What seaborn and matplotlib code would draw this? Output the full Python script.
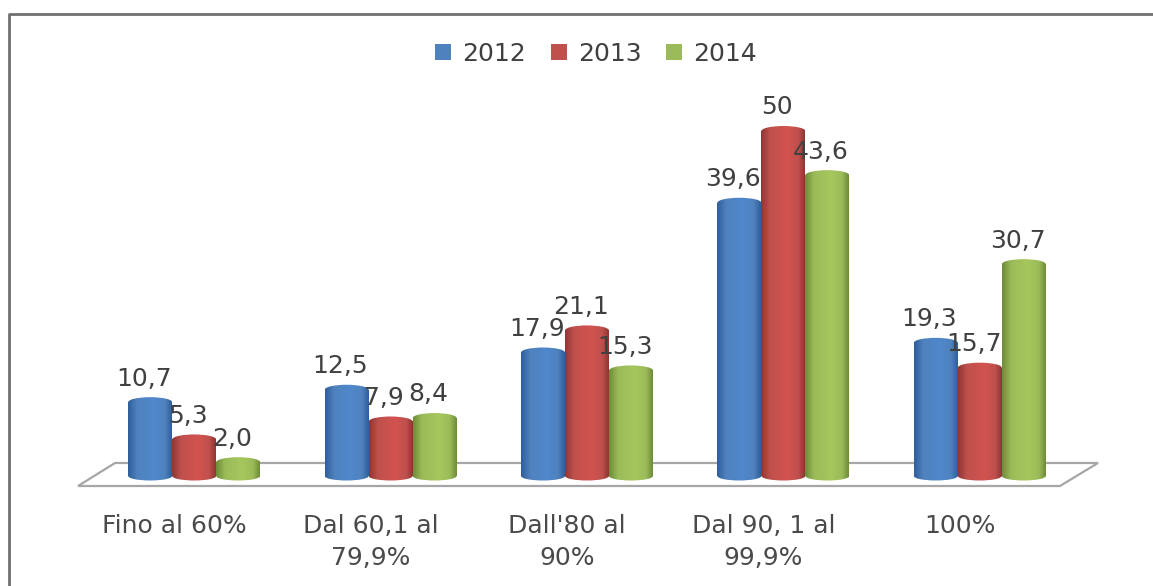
import matplotlib
matplotlib.use('Agg')

import matplotlib.pyplot as plt
from matplotlib.colors import LinearSegmentedColormap
from matplotlib.lines import Line2D
from matplotlib.patches import Ellipse, Polygon, Rectangle
from matplotlib.transforms import ScaledTranslation
import numpy as np
import pandas as pd
import seaborn as sns

categories = ["Fino al 60%", "Dal 60,1 al\n79,9%", "Dall'80 al\n90%", "Dal 90, 1 al\n99,9%", "100%"]
years = ["2012", "2013", "2014"]
values_2012 = [10.7, 12.5, 17.9, 39.6, 19.3]
values_2013 = [5.3, 7.9, 21.1, 50, 15.7]
values_2014 = [2.0, 8.4, 15.3, 43.6, 30.7]
labels_2012 = ["10,7", "12,5", "17,9", "39,6", "19,3"]
labels_2013 = ["5,3", "7,9", "21,1", "50", "15,7"]
labels_2014 = ["2,0", "8,4", "15,3", "43,6", "30,7"]

colors = ["#4F81BD", "#C0504D", "#9BBB59"]
edge_dark = ["#2F5F9C", "#8F3734", "#6F8C38"]
body_light = ["#5088CC", "#D2534F", "#A5C75C"]

W, H = 1153, 586
PX_PER_UNIT = 6.9
Y_ZERO = 476
TXT = "#404040"
FS = 18

df = pd.DataFrame({
    "cat": categories * 3,
    "year": np.repeat(years, 5),
    "val": values_2012 + values_2013 + values_2014,
})

fig = plt.figure(figsize=(W / 100, H / 100), dpi=100, facecolor="white")
ax = fig.add_axes([96 / W, 1 - 492 / H, (1078 - 96) / W, (492 - 40) / H])
ax.patch.set_alpha(0)

sns.barplot(data=df, x="cat", y="val", hue="year", palette=colors, width=0.672, gap=0,
            saturation=1, ax=ax, errorbar=None)

ylim = (-(492 - Y_ZERO) / PX_PER_UNIT, (Y_ZERO - 40) / PX_PER_UNIT)
xlim = (-0.5, 4.5)


def cylinder_fill(clip, x0, x1, y0, y1, cmap, zorder):
    grad = np.linspace(0, 1, 64).reshape(1, -1)
    im = ax.imshow(grad, extent=(x0, x1, y0, y1), cmap=cmap, vmin=0, vmax=1,
                   aspect="auto", origin="lower", zorder=zorder, interpolation="bilinear")
    im.set_clip_path(clip)


all_labels = [labels_2012, labels_2013, labels_2014]
for i, cont in enumerate(ax.containers):
    cmap = LinearSegmentedColormap.from_list(
        "cyl", [(0, edge_dark[i]), (0.2, colors[i]), (0.6, body_light[i]), (0.85, colors[i]), (1, edge_dark[i])])
    for j, bar in enumerate(cont):
        x0, w, v = bar.get_x(), bar.get_width(), bar.get_height()
        cx = x0 + w / 2
        bar.set_visible(False)
        z = 3 + i
        # rounded foot, body and dome share one gradient
        foot = Ellipse((cx, 0), w, 9 / PX_PER_UNIT, transform=ax.transData, facecolor="none", edgecolor="none")
        body = Rectangle((x0, 0), w, v, transform=ax.transData, facecolor="none", edgecolor="none")
        top = Ellipse((cx, v), w, 10 / PX_PER_UNIT, transform=ax.transData, facecolor="none", edgecolor="none")
        for part, y0, y1 in [(foot, -1, 1), (body, 0, v), (top, v - 1, v + 1)]:
            ax.add_patch(part)
            cylinder_fill(part, x0, x0 + w, y0, y1, cmap, z)
        ax.annotate(all_labels[i][j], xy=(cx, v), xytext=(-4.5, 17), textcoords="offset points",
                    ha="center", va="center", fontsize=FS, color=TXT, zorder=10)

ax.set_xlim(xlim)
ax.set_ylim(ylim)
ax.set_xlabel("")
ax.set_ylabel("")
ax.set_yticks([])
ax.tick_params(axis="x", length=0, pad=16, labelsize=FS, labelcolor="#4A4A4A")
offset = ScaledTranslation(-20 / 100, 0, fig.dpi_scale_trans)
for lab in ax.get_xticklabels():
    lab.set_transform(lab.get_transform() + offset)
    lab.set_linespacing(1.4)
for s in ax.spines.values():
    s.set_visible(False)

sns.move_legend(ax, "center", bbox_to_anchor=(596 / W, 1 - 54 / H), bbox_transform=fig.transFigure,
                ncol=3, frameon=False, title=None, fontsize=FS, handlelength=0.64, handleheight=0.64,
                handletextpad=0.44, columnspacing=0.98, labelcolor=TXT)

# floor and frame, in pixel coordinates of the figure
def to_fig(pts):
    return [(x / W, 1 - y / H) for x, y in pts]


fig.add_artist(Polygon(to_fig([(78, 486), (115, 463), (1098, 463), (1060, 486)]), closed=True,
                       transform=fig.transFigure, facecolor="white", edgecolor="#A6A6A6",
                       linewidth=1.6, zorder=-1))
xy = to_fig([(9, 586), (9, 14), (1153, 14)])
fig.add_artist(Line2D([p[0] for p in xy], [p[1] for p in xy], transform=fig.transFigure,
                      color="#707070", linewidth=2.0, zorder=-1))

fig.savefig("out.png", dpi=100)
plt.close(fig)
